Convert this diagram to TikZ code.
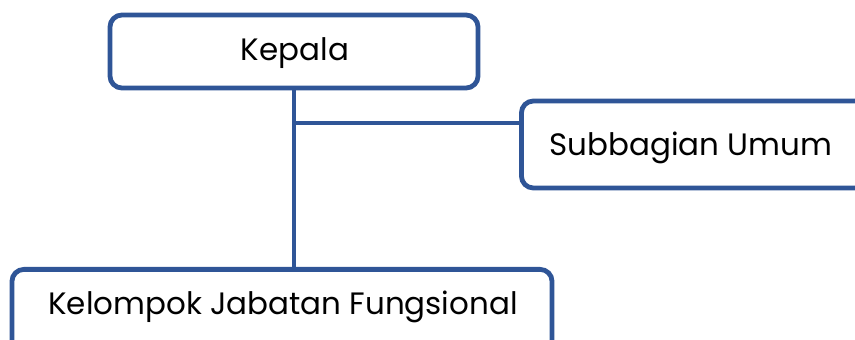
\documentclass[tikz,border=0pt]{standalone}
\usepackage{fontspec}
\setmainfont{Poppins}
\usepackage{tikz}
\usepackage{xcolor}
\usetikzlibrary{positioning}
\definecolor{garisbiru}{HTML}{2F5597}
\tikzstyle{kotak} = [rectangle, rounded corners=0.3cm, draw=garisbiru, line width=0.12cm, fill=white, inner sep=0pt]
\tikzstyle{teks} = [font=\fontsize{22}{26}\selectfont, text=black, inner sep=0pt]
\tikzstyle{garis} = [draw=garisbiru, line width=0.12cm]

\begin{document}
\begin{tikzpicture}[x=0.025cm, y=-0.025cm]
        \useasboundingbox (0,0) rectangle (855,340);
        \clip (0,0) rectangle (855,340);
        \node (kepala) [kotak, minimum width=9.2cm, minimum height=1.825cm] at (294,51.5) {};
        \node (teksKepala) [teks] at (295,53) {Kepala};
        \node (subbagian) [kotak, minimum width=9.05cm, minimum height=2.175cm, anchor=west] at (519,144.5) {};
        \node (teksSub) [teks] at (691,148) {Subbagian Umum};
        \node (kelompok) [kotak, minimum width=13.5cm, minimum height=2.5cm, anchor=north] at (282,267) {};
        \node (teksKel) [teks] at (283,307) {Kelompok Jabatan Fungsional};
        \coordinate (cabang) at (294,123);

        \draw [garis] (kepala.south) -- (kepala.south |- kelompok.north);
        \draw [garis] (cabang) -- (cabang -| subbagian.west);

    \end{tikzpicture}
\end{document}
